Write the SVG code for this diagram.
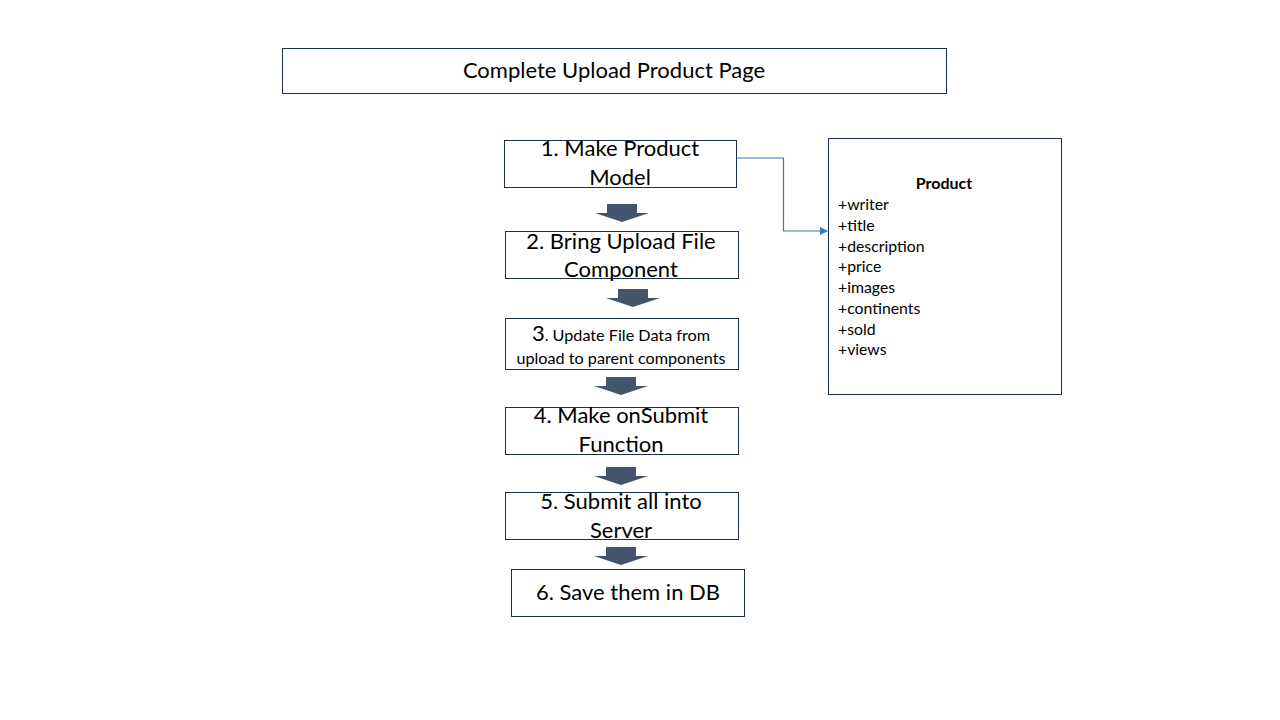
<svg xmlns="http://www.w3.org/2000/svg" width="1280" height="720" viewBox="0 0 1280 720">
<defs>
<style>
.box{fill:#fff;stroke:#1f2d4d;stroke-width:1}
.t{font-family:Lato,"Open Sans","Liberation Sans",sans-serif;fill:#000;text-anchor:middle}
.big{font-size:22px}
.small{font-size:16.2px}
.attr{font-family:Lato,"Open Sans","Liberation Sans",sans-serif;font-size:15.8px;fill:#000}
.blk{fill:#44546a}
</style>
<marker id="ah" markerWidth="8" markerHeight="8" refX="7" refY="4" orient="auto" markerUnits="userSpaceOnUse">
<path d="M0,0 L8,4 L0,8 Z" fill="#4472c4"/>
</marker>
<path id="darrow" d="M12,0 H42 V9 H54 L27,18 L0,9 H12 Z"/>
</defs>
<rect width="1280" height="720" fill="#fff"/>

<g id="title">
<rect class="box" x="282.5" y="48.5" width="664" height="45"/>
<text class="t" x="614" y="78" font-size="22">Complete Upload Product Page</text>
</g>

<g id="step1">
<rect class="box" x="504.5" y="140.5" width="232" height="47"/>
<text class="t big" x="620" y="156">1. Make Product</text>
<text class="t big" x="620" y="185">Model</text>
</g>

<g id="step2">
<rect class="box" x="505.5" y="231.5" width="233" height="47"/>
<text class="t big" x="621" y="249">2. Bring Upload File</text>
<text class="t big" x="621" y="277">Component</text>
</g>

<g id="step3">
<rect class="box" x="505.5" y="318.5" width="233" height="51"/>
<text class="t" x="621" y="341"><tspan font-size="22">3</tspan><tspan font-size="16.2">. Update File Data from</tspan></text>
<text class="t small" x="621" y="364">upload to parent components</text>
</g>

<g id="step4">
<rect class="box" x="505.5" y="407.5" width="233" height="47"/>
<text class="t big" x="621" y="423">4. Make onSubmit</text>
<text class="t big" x="621" y="452">Function</text>
</g>

<g id="step5">
<rect class="box" x="505.5" y="492.5" width="233" height="47"/>
<text class="t big" x="621" y="509">5. Submit all into</text>
<text class="t big" x="621" y="538">Server</text>
</g>

<g id="step6">
<rect class="box" x="511.5" y="569.5" width="233" height="47"/>
<text class="t big" x="628" y="600">6. Save them in DB</text>
</g>

<g id="product">
<rect class="box" x="828.5" y="138.5" width="233" height="256"/>
<text class="t" x="944" y="189" font-size="16" font-weight="bold">Product</text>
<text class="attr" x="838" y="210">+writer</text>
<text class="attr" x="838" y="231">+title</text>
<text class="attr" x="838" y="252">+description</text>
<text class="attr" x="838" y="272">+price</text>
<text class="attr" x="838" y="293">+images</text>
<text class="attr" x="838" y="314">+continents</text>
<text class="attr" x="838" y="335">+sold</text>
<text class="attr" x="838" y="355">+views</text>
</g>

<g id="connectors">
<use href="#darrow" class="blk" x="595" y="204"/>
<use href="#darrow" class="blk" x="606" y="289"/>
<use href="#darrow" class="blk" x="594" y="377"/>
<use href="#darrow" class="blk" x="594" y="467"/>
<use href="#darrow" class="blk" x="594" y="547"/>
<path d="M737,158 H783.5 V231 H827" fill="none" stroke="#4472c4" stroke-width="1.2" marker-end="url(#ah)"/>
</g>
</svg>
